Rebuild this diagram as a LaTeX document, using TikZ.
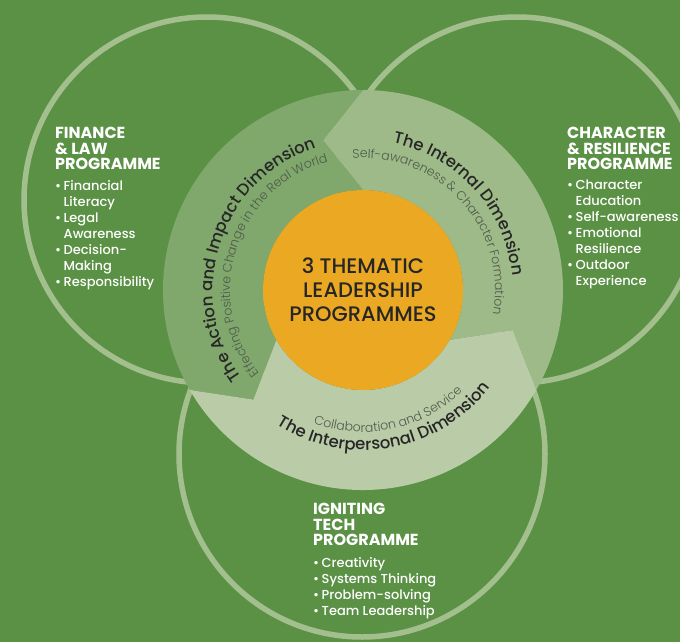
\documentclass[tikz,border=0pt]{standalone}
\usepackage{fontspec}
\setmainfont{Poppins}
\newfontfamily\medfont{Poppins Medium}
\newfontfamily\lightfont{Poppins Light}
\usetikzlibrary{calc,positioning,decorations.text}

\definecolor{bggreen}{HTML}{5A9145}
\definecolor{rimgreen}{HTML}{A4BF8E}
\definecolor{actgreen}{HTML}{80A76C}
\definecolor{intgreen}{HTML}{9EBA88}
\definecolor{pergreen}{HTML}{BACBA8}
\definecolor{hubgold}{HTML}{EBA822}
\definecolor{inkdark}{HTML}{262626}
\definecolor{inkgrey}{HTML}{4F5A4B}

\newcommand\dimtitle{\medfont\fontsize{16.5}{16.5}\selectfont\color{inkdark}}
\newcommand\dimsub{\lightfont\fontsize{12.5}{12.5}\selectfont\color{inkgrey}}
\newcommand\bitem{\makebox[8.5pt][l]{\textbullet}}
\newcommand\bgap{\hspace*{8.5pt}}

\begin{document}
\begin{tikzpicture}[x=1pt, y=1pt,
  rim/.style={draw=rimgreen, line width=5.5pt},
  progtitle/.style={anchor=north west, inner sep=0pt, align=left, text=white,
    font=\bfseries\fontsize{16}{15.5}\selectfont},
  proglist/.style={anchor=north west, inner sep=0pt, align=left, text=white,
    font=\medfont\fontsize{13}{16}\selectfont},
  arcword/.style={decorate, decoration={text along path, text align=center, text={#1}}}]
\useasboundingbox (0,0) rectangle (680,-642);
\fill[bggreen] (0,0) rectangle (680,-642);
\draw[rim] (207,-200) circle[radius=183];
\draw[rim] (517,-200) circle[radius=183];
\draw[rim] (362,-454) circle[radius=183];
\coordinate (hubc) at (363,-290);
\fill[intgreen] ($(hubc)+(-30:100)$) arc[start angle=-30, end angle=90, radius=100]
  -- ($(hubc)+(105:155)$) -- ($(hubc)+(90:200)$) arc[start angle=90, end angle=-30, radius=200]
  -- ($(hubc)+(-15:155)$) -- cycle;
\fill[actgreen] ($(hubc)+(90:100)$) arc[start angle=90, end angle=210, radius=100]
  -- ($(hubc)+(225:155)$) -- ($(hubc)+(210:200)$) arc[start angle=210, end angle=90, radius=200]
  -- ($(hubc)+(105:155)$) -- cycle;
\fill[pergreen] ($(hubc)+(210:100)$) arc[start angle=210, end angle=330, radius=100]
  -- ($(hubc)+(345:155)$) -- ($(hubc)+(330:200)$) arc[start angle=330, end angle=210, radius=200]
  -- ($(hubc)+(225:155)$) -- cycle;
\node[circle, fill=hubgold, minimum size=200pt, inner sep=0pt, align=center, text=inkdark,
  font=\medfont\fontsize{21}{24}\selectfont] (hub) at (hubc) {3 THEMATIC\\LEADERSHIP\\PROGRAMMES};
\path[arcword={|\dimtitle|The Action and Impact Dimension}]
  ($(hubc)+(252:150)$) arc[start angle=252, end angle=72, radius=150];
\path[arcword={|\dimsub|Effecting Positive Change in the Real World}]
  ($(hubc)+(252:133)$) arc[start angle=252, end angle=72, radius=133];
\path[arcword={|\dimtitle|The Internal Dimension}]
  ($(hubc)+(132:150)$) arc[start angle=132, end angle=-48, radius=150];
\path[arcword={|\dimsub|Self-awareness {\&} Character Formation}]
  ($(hubc)+(132:132)$) arc[start angle=132, end angle=-48, radius=132];
\path[arcword={|\dimtitle|The Interpersonal Dimension}]
  ($(hubc)+(190:160)$) arc[start angle=190, end angle=370, radius=160];
\path[arcword={|\dimsub|Collaboration and Service}]
  ($(hubc)+(192:142)$) arc[start angle=192, end angle=372, radius=142];
\node[progtitle] (finhead) at (55,-127) {FINANCE\\\& LAW\\PROGRAMME};
\node[proglist, below=10pt of finhead.south west, anchor=north west] (finlist)
  {\bitem Financial\\\bgap Literacy\\\bitem Legal\\\bgap Awareness\\\bitem Decision-\\\bgap Making\\\bitem Responsibility};
\node[progtitle] (charhead) at (567,-127) {CHARACTER\\\& RESILIENCE\\PROGRAMME};
\node[proglist, below=10pt of charhead.south west, anchor=north west] (charlist)
  {\bitem Character\\\bgap Education\\\bitem Self-awareness\\\bitem Emotional\\\bgap Resilience\\\bitem Outdoor\\\bgap Experience};
\node[progtitle] (techhead) at (313,-503) {IGNITING\\TECH\\PROGRAMME};
\node[proglist, below=11pt of techhead.south west, anchor=north west] (techlist)
  {\bitem Creativity\\\bitem Systems Thinking\\\bitem Problem-solving\\\bitem Team Leadership};
\end{tikzpicture}
\end{document}
